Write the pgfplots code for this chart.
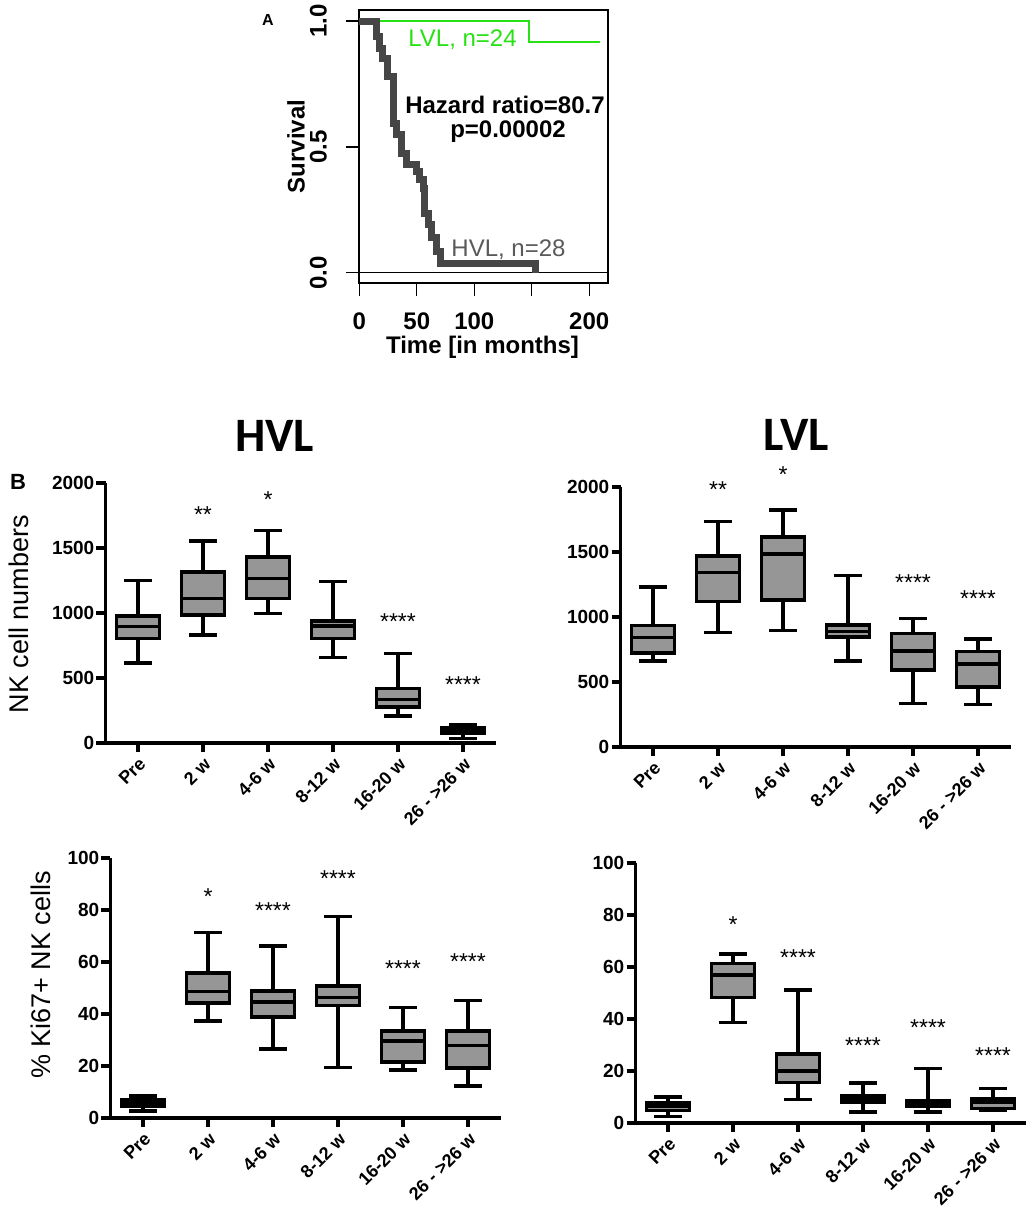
\documentclass[border=0pt]{standalone}
\usepackage{fontspec}
\setmainfont{Liberation Sans}
\newfontfamily\carlito{Carlito}
\usepackage{pgfplots}
\pgfplotsset{compat=1.18}
\usepgfplotslibrary{statistics}
\definecolor{boxgray}{RGB}{150,150,150}
\definecolor{lvlgreen}{RGB}{40,225,20}
\definecolor{hvlgray}{RGB}{70,70,70}
\definecolor{hvltext}{RGB}{90,90,90}
\newcommand{\fs}[1]{\fontsize{#1}{#1}\selectfont}
\newcommand{\stars}[3]{\node[font=\fs{23}, anchor=base, yshift=-13pt, inner sep=0pt] at (axis cs:#1,#2) {#3};}
\pgfplotsset{
  gpstyle/.style={
    scale only axis, width=390pt, height=260pt,
    xmin=-0.5, xmax=5.5, ymin=0,
    axis x line*=bottom, axis y line*=left,
    axis line style={line width=3.5pt, -},
    tick align=outside, major tick length=9pt,
    tick style={line width=3.5pt, black},
    xtick={0,...,5},
    xticklabels={Pre,2 w,4-6 w,8-12 w,16-20 w,26 - >26 w},
    xticklabel style={rotate=45, anchor=north east, font=\bfseries\fs{18}, inner sep=1pt},
    xticklabel shift=3pt,
    yticklabel style={font=\bfseries\fs{19}, inner sep=2pt},
    /pgf/number format/assume math mode=true,
    /pgf/number format/1000 sep={},
    clip=false,
    boxplot/draw direction=y,
    boxplot/box extend=0.66,
    boxplot/whisker extend=0.42,
    label style={font=\fs{27}},
  },
  bx/.style={fill=boxgray, draw=black, line width=3.5pt, solid},
}
\begin{document}
\begin{tikzpicture}
\useasboundingbox (0,0) rectangle (1033pt,-1218pt);

% ---------------- Panel A ----------------
\node[font=\bfseries\fs{16}] at (268pt,-20pt) {A};
\begin{axis}[
  scale only axis, width=249pt, height=273pt,
  at={(359pt,-283pt)}, anchor=south west,
  xmin=-0.3, xmax=216.3, ymin=-0.041, ymax=1.044,
  axis line style={line width=1.3pt},
  tick style={line width=1.3pt, black},
  tick align=outside, major tick length=13pt, tick pos=left,
  xtick={0,50,100,150,200}, xticklabels={0,50,100,,200},
  ytick={0,0.5,1}, yticklabels={0.0,0.5,1.0},
  xticklabel style={font=\bfseries\fs{24}, inner sep=0pt},
  yticklabel style={font=\bfseries\fs{24}, rotate=90, anchor=south, inner sep=0pt},
  xticklabel shift=17pt, yticklabel shift=19pt,
  xlabel={Time [in months]}, ylabel={Survival},
  label style={font=\bfseries\fs{24}},
  xlabel style={at={(axis description cs:0.496,-0.260)}, anchor=base},
  ylabel style={at={(axis description cs:-0.253,0.5)}, anchor=center},
  clip=false,
]
\addplot[black, line width=1.2pt] coordinates {(-0.3,0) (216.3,0)};
\addplot[lvlgreen, line width=2.4pt, const plot] coordinates {(0,1) (147.6,0.917) (209.6,0.917)};
\addplot[hvlgray, line width=7pt, const plot] coordinates {
(0,1) (14.6,0.938) (17.5,0.892) (20.5,0.852) (24.9,0.779) (30.1,0.594)
(32.2,0.548) (36.5,0.475) (41.0,0.429) (49.7,0.402) (52.6,0.369) (55.6,0.336)
(57.0,0.237) (60.0,0.190) (62.9,0.138) (67.3,0.085) (70.2,0.038) (153.5,0)};
\end{axis}
\node[font=\fs{24}, text=lvlgreen, anchor=base] at (462.5pt,-46pt) {LVL, n=24};
\node[font=\fs{24}, text=hvltext, anchor=base] at (508.5pt,-256pt) {HVL, n=28};
\node[font=\bfseries\fs{24}, anchor=base] at (505pt,-113pt) {Hazard ratio=80.7};
\node[font=\bfseries\fs{24}, anchor=base] at (508pt,-137pt) {p=0.00002};

% ---------------- Panel B titles ----------------
\node[font=\carlito\bfseries\fs{48}, anchor=base] at (274.5pt,-451pt) {HVL};
\node[font=\carlito\bfseries\fs{48}, anchor=base] at (796.5pt,-450pt) {LVL};
\node[font=\bfseries\fs{22}] at (18pt,-482pt) {B};

% ---------------- HVL NK ----------------
\begin{axis}[gpstyle, at={(105.5pt,-743pt)}, anchor=south west,
  ymax=2000, ytick={0,500,1000,1500,2000},
  ylabel={NK cell numbers},
  ylabel style={at={(axis description cs:-0.222,0.496)}, anchor=center}]
\addplot[bx, boxplot prepared={draw position=0, lower whisker=617, lower quartile=805, median=895, upper quartile=977, upper whisker=1249}] coordinates {};
\addplot[bx, boxplot prepared={draw position=1, lower whisker=830, lower quartile=985, median=1113, upper quartile=1314, upper whisker=1555}] coordinates {};
\addplot[bx, boxplot prepared={draw position=2, lower whisker=997, lower quartile=1113, median=1267, upper quartile=1429, upper whisker=1635}] coordinates {};
\addplot[bx, boxplot prepared={draw position=3, lower whisker=658, lower quartile=805, median=902, upper quartile=938, upper whisker=1242}] coordinates {};
\addplot[bx, boxplot prepared={draw position=4, lower whisker=206, lower quartile=278, median=334, upper quartile=419, upper whisker=689}] coordinates {};
\addplot[bx, boxplot prepared={draw position=5, lower whisker=33, lower quartile=72, median=93, upper quartile=116, upper whisker=144}] coordinates {};
\stars{1}{1794}{**}
\stars{2}{1910}{*}
\stars{4}{972}{****}
\stars{5}{488}{****}
\end{axis}

% ---------------- LVL NK ----------------
\begin{axis}[gpstyle, at={(620.5pt,-747pt)}, anchor=south west,
  ymax=2000, ytick={0,500,1000,1500,2000}]
\addplot[bx, boxplot prepared={draw position=0, lower whisker=663, lower quartile=725, median=843, upper quartile=933, upper whisker=1229}] coordinates {};
\addplot[bx, boxplot prepared={draw position=1, lower whisker=879, lower quartile=1118, median=1342, upper quartile=1470, upper whisker=1735}] coordinates {};
\addplot[bx, boxplot prepared={draw position=2, lower whisker=895, lower quartile=1131, median=1483, upper quartile=1614, upper whisker=1825}] coordinates {};
\addplot[bx, boxplot prepared={draw position=3, lower whisker=663, lower quartile=848, median=887, upper quartile=938, upper whisker=1319}] coordinates {};
\addplot[bx, boxplot prepared={draw position=4, lower whisker=334, lower quartile=591, median=738, upper quartile=874, upper whisker=990}] coordinates {};
\addplot[bx, boxplot prepared={draw position=5, lower whisker=326, lower quartile=463, median=638, upper quartile=733, upper whisker=830}] coordinates {};
\stars{1}{2018}{**}
\stars{2}{2134}{*}
\stars{4}{1306}{****}
\stars{5}{1183}{****}
\end{axis}

% ---------------- HVL Ki67 ----------------
\begin{axis}[gpstyle, at={(110.5pt,-1118pt)}, anchor=south west,
  ymax=100, ytick={0,20,40,60,80,100},
  ylabel={\% Ki67+ NK cells},
  ylabel style={at={(axis description cs:-0.178,0.55)}, anchor=center}]
\addplot[bx, boxplot prepared={draw position=0, lower whisker=2.7, lower quartile=4.6, median=5.8, upper quartile=7.1, upper whisker=8.4}] coordinates {};
\addplot[bx, boxplot prepared={draw position=1, lower whisker=37.4, lower quartile=44.3, median=48.6, upper quartile=55.7, upper whisker=71.3}] coordinates {};
\addplot[bx, boxplot prepared={draw position=2, lower whisker=26.6, lower quartile=38.9, median=44.7, upper quartile=48.8, upper whisker=66.2}] coordinates {};
\addplot[bx, boxplot prepared={draw position=3, lower whisker=19.4, lower quartile=43.2, median=46.3, upper quartile=50.8, upper whisker=77.5}] coordinates {};
\addplot[bx, boxplot prepared={draw position=4, lower whisker=18.4, lower quartile=21.6, median=29.7, upper quartile=33.5, upper whisker=42.5}] coordinates {};
\addplot[bx, boxplot prepared={draw position=5, lower whisker=12.3, lower quartile=19.3, median=27.8, upper quartile=33.4, upper whisker=45.2}] coordinates {};
\stars{1}{87.1}{*}
\stars{2}{81.6}{****}
\stars{3}{94}{****}
\stars{4}{59.5}{****}
\stars{5}{62.1}{****}
\end{axis}

% ---------------- LVL Ki67 ----------------
\begin{axis}[gpstyle, at={(635.5pt,-1123pt)}, anchor=south west,
  ymax=100, ytick={0,20,40,60,80,100}]
\addplot[bx, boxplot prepared={draw position=0, lower whisker=2.6, lower quartile=4.9, median=6.4, upper quartile=7.7, upper whisker=10.0}] coordinates {};
\addplot[bx, boxplot prepared={draw position=1, lower whisker=38.6, lower quartile=48.2, median=56.9, upper quartile=61.4, upper whisker=65.0}] coordinates {};
\addplot[bx, boxplot prepared={draw position=2, lower whisker=9.1, lower quartile=15.6, median=20.1, upper quartile=26.5, upper whisker=51.2}] coordinates {};
\addplot[bx, boxplot prepared={draw position=3, lower whisker=4.2, lower quartile=7.8, median=9.1, upper quartile=10.3, upper whisker=15.4}] coordinates {};
\addplot[bx, boxplot prepared={draw position=4, lower whisker=4.2, lower quartile=6.4, median=7.7, upper quartile=8.7, upper whisker=21.0}] coordinates {};
\addplot[bx, boxplot prepared={draw position=5, lower whisker=5.1, lower quartile=5.5, median=8.1, upper quartile=9.3, upper whisker=13.2}] coordinates {};
\stars{1}{78.1}{*}
\stars{2}{65.5}{****}
\stars{3}{31.9}{****}
\stars{4}{38.7}{****}
\stars{5}{28}{****}
\end{axis}
\end{tikzpicture}
\end{document}
